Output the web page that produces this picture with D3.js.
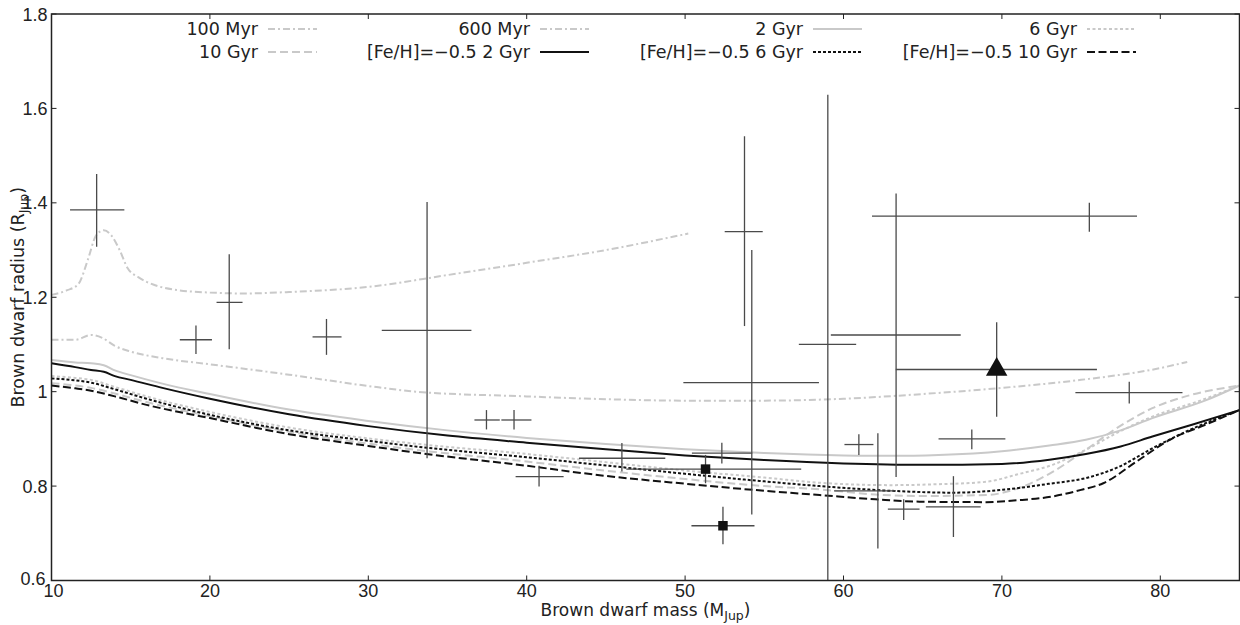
<!DOCTYPE html>
<html>
<head>
<meta charset="utf-8">
<script src="https://cdn.jsdelivr.net/npm/d3@7"></script>
<style>
  html, body { margin: 0; padding: 0; background: #fff; }
  svg { display: block; }
</style>
</head>
<body>
<svg id="chart" width="1240" height="625"></svg>
<script>
// ---------------- DATA ----------------
const xTicks = [10, 20, 30, 40, 50, 60, 70, 80];
const yTicks = [0.6, 0.8, 1.0, 1.2, 1.4, 1.6, 1.8];
const yTickLabels = ["0.6", "0.8", "1", "1.2", "1.4", "1.6", "1.8"];

// Model isochrones (mass in M_Jup, radius in R_Jup)
const iso100MyrMass = [10, 11, 11.7, 12.3, 12.8, 13.3, 13.8, 14.3, 14.8, 15.5, 16.5, 18, 20, 22, 25, 30, 35, 40, 45, 50.2];
const iso100MyrRad  = [1.205, 1.215, 1.228, 1.28, 1.33, 1.342, 1.33, 1.30, 1.262, 1.242, 1.226, 1.215, 1.21, 1.208, 1.211, 1.222, 1.247, 1.273, 1.300, 1.335];

const iso600MyrMass = [10, 11.5, 12.5, 13.2, 14, 15, 17, 20, 25, 30, 33, 40, 45, 50, 55, 60, 65, 70, 75, 80, 81.7];
const iso600MyrRad  = [1.110, 1.110, 1.120, 1.114, 1.097, 1.085, 1.071, 1.058, 1.036, 1.012, 1.0, 0.99, 0.984, 0.981, 0.981, 0.985, 0.995, 1.008, 1.025, 1.050, 1.063];

const iso2GyrMass = [10, 11.5, 12.5, 13.3, 14, 15, 17, 20, 25, 30, 35, 40, 45, 50, 55, 60, 63, 66, 70, 73, 75.3, 77.5, 79.5, 82.9, 85];
const iso2GyrRad  = [1.067, 1.062, 1.060, 1.056, 1.045, 1.035, 1.017, 0.995, 0.962, 0.938, 0.918, 0.902, 0.889, 0.878, 0.870, 0.865, 0.864, 0.866, 0.874, 0.886, 0.898, 0.918, 0.944, 0.982, 1.013];

const iso6GyrMass = [10, 11.5, 12.5, 14, 16, 20, 25, 30, 33.2, 40, 44.6, 50, 55, 58.5, 63, 66, 69, 71, 73.2, 75.3, 77.4, 79.5, 82.6, 85];
const iso6GyrRad  = [1.033, 1.029, 1.025, 1.010, 0.990, 0.957, 0.924, 0.901, 0.889, 0.868, 0.852, 0.833, 0.818, 0.807, 0.802, 0.804, 0.809, 0.825, 0.845, 0.877, 0.915, 0.947, 0.982, 1.013];

const iso10GyrMass = [10, 11.5, 12.5, 14, 16, 20, 25, 30, 33.2, 40, 44.6, 50, 55, 58.5, 62, 64.8, 69, 71, 73.2, 75.3, 77.4, 79.5, 81.6, 85];
const iso10GyrRad  = [1.018, 1.013, 1.008, 0.996, 0.978, 0.948, 0.915, 0.890, 0.876, 0.852, 0.834, 0.815, 0.800, 0.793, 0.782, 0.779, 0.781, 0.795, 0.830, 0.877, 0.926, 0.965, 0.990, 1.013];

const feh2GyrMass = [10, 11.5, 12.5, 13.3, 14, 15, 17, 20, 25, 30, 35, 40, 45, 50, 55, 60, 65, 70, 73, 75.3, 77.5, 79.5, 82, 85];
const feh2GyrRad  = [1.060, 1.052, 1.046, 1.042, 1.033, 1.025, 1.008, 0.985, 0.952, 0.927, 0.907, 0.892, 0.878, 0.865, 0.855, 0.848, 0.845, 0.847, 0.856, 0.868, 0.884, 0.905, 0.930, 0.961];

const feh6GyrMass = [10, 11.5, 12.5, 14, 16, 20, 25, 30, 33.2, 40, 44.6, 50, 55, 58.5, 63, 66.9, 70, 73, 75.3, 77.4, 79.5, 81.6, 85];
const feh6GyrRad  = [1.028, 1.024, 1.019, 1.005, 0.985, 0.951, 0.918, 0.896, 0.883, 0.861, 0.845, 0.826, 0.810, 0.800, 0.790, 0.786, 0.792, 0.805, 0.817, 0.841, 0.880, 0.915, 0.961];

const feh10GyrMass = [10, 11.5, 12.5, 14, 16, 20, 25, 30, 33.2, 40, 44.6, 50, 55, 58.5, 62, 64.8, 69, 71, 73.2, 75, 76.4, 78.5, 80.6, 83, 85];
const feh10GyrRad  = [1.013, 1.007, 1.002, 0.990, 0.972, 0.944, 0.910, 0.885, 0.870, 0.843, 0.823, 0.805, 0.790, 0.781, 0.772, 0.767, 0.766, 0.770, 0.778, 0.792, 0.806, 0.852, 0.898, 0.932, 0.961];

// Observed brown dwarfs
const bdMass     = [12.85, 19.12, 21.22, 27.36, 33.71, 37.46, 39.2, 40.78, 46.01, 51.29, 52.32, 52.39, 54.21, 53.75, 59.01, 63.32, 75.52, 69.67, 78.04, 68.1, 60.97, 62.17, 63.8, 66.94];
const bdRadius   = [1.385, 1.110, 1.189, 1.116, 1.130, 0.940, 0.940, 0.820, 0.859, 0.836, 0.870, 0.716, 1.019, 1.339, 1.100, 1.120, 1.372, 1.047, 0.998, 0.900, 0.888, 0.790, 0.751, 0.756];
const bdMassLo   = [11.17, 18.1, 20.42, 26.48, 30.85, 36.7, 38.4, 39.3, 43.3, 46.29, 50.43, 50.4, 49.89, 52.5, 57.18, 59.2, 61.8, 63.3, 74.64, 66.0, 60.06, 59.4, 62.8, 65.2];
const bdMassHi   = [14.6, 20.13, 22.06, 28.31, 36.51, 38.3, 40.3, 42.33, 48.75, 57.33, 54.24, 54.38, 58.45, 54.9, 60.8, 67.4, 78.53, 76.0, 81.4, 70.22, 61.89, 63.3, 64.8, 68.66];
const bdRadLo    = [1.307, 1.080, 1.090, 1.078, 0.859, 0.920, 0.920, 0.799, 0.831, 0.806, 0.848, 0.677, 0.740, 1.139, 0.55, 0.819, 1.339, 0.947, 0.975, 0.878, 0.866, 0.668, 0.728, 0.692];
const bdRadHi    = [1.461, 1.140, 1.291, 1.154, 1.402, 0.961, 0.961, 0.843, 0.891, 0.866, 0.892, 0.756, 1.300, 1.541, 1.629, 1.420, 1.400, 1.147, 1.021, 0.920, 0.910, 0.912, 0.772, 0.821];
const bdMarker   = ["none", "none", "none", "none", "none", "none", "none", "none", "none", "square", "none", "square", "none", "none", "none", "none", "none", "triangle", "none", "none", "none", "none", "none", "none"];

// Legend (row-major as displayed)
const legendRow1 = ["100 Myr", "600 Myr", "2 Gyr", "6 Gyr"];
const legendRow2 = ["10 Gyr", "[Fe/H]=\u22120.5 2 Gyr", "[Fe/H]=\u22120.5 6 Gyr", "[Fe/H]=\u22120.5 10 Gyr"];

// ---------------- STYLES ----------------
const GRAY = "#c9c9c9";
const styles = {
  "100 Myr": { color: GRAY, dash: "7,3,2,3", width: 2 },
  "600 Myr": { color: GRAY, dash: "7,3,2,3", width: 2 },
  "2 Gyr":   { color: GRAY, dash: null, width: 2 },
  "6 Gyr":   { color: GRAY, dash: "3,2.5", width: 2 },
  "10 Gyr":  { color: GRAY, dash: "8,4", width: 2 },
  "[Fe/H]=\u22120.5 2 Gyr":  { color: "#111", dash: null, width: 2 },
  "[Fe/H]=\u22120.5 6 Gyr":  { color: "#111", dash: "3,2", width: 2 },
  "[Fe/H]=\u22120.5 10 Gyr": { color: "#111", dash: "8,3.5", width: 2 }
};

const models = [
  { name: "100 Myr", m: iso100MyrMass, r: iso100MyrRad },
  { name: "600 Myr", m: iso600MyrMass, r: iso600MyrRad },
  { name: "2 Gyr", m: iso2GyrMass, r: iso2GyrRad },
  { name: "6 Gyr", m: iso6GyrMass, r: iso6GyrRad },
  { name: "10 Gyr", m: iso10GyrMass, r: iso10GyrRad },
  { name: "[Fe/H]=\u22120.5 2 Gyr", m: feh2GyrMass, r: feh2GyrRad },
  { name: "[Fe/H]=\u22120.5 6 Gyr", m: feh6GyrMass, r: feh6GyrRad },
  { name: "[Fe/H]=\u22120.5 10 Gyr", m: feh10GyrMass, r: feh10GyrRad }
];

// ---------------- CHART ----------------
const svg = d3.select("#chart");
const L = 51.5, R = 1239.5, T = 14, B = 580.5;
const x = d3.scaleLinear().domain([10, 85]).range([L, R]);
const y = d3.scaleLinear().domain([0.6, 1.8]).range([B, T]);

svg.append("defs").append("clipPath").attr("id", "plotclip")
  .append("rect").attr("x", L).attr("y", T).attr("width", R - L).attr("height", B - T);

const plot = svg.append("g").attr("clip-path", "url(#plotclip)");

const line = d3.line().x(d => x(d[0])).y(d => y(d[1])).curve(d3.curveMonotoneX);

models.forEach(md => {
  const st = styles[md.name];
  const pts = md.m.map((v, i) => [v, md.r[i]]);
  plot.append("path")
    .attr("d", line(pts))
    .attr("fill", "none")
    .attr("stroke", st.color)
    .attr("stroke-width", st.width)
    .attr("stroke-dasharray", st.dash)
    .attr("stroke-linejoin", "round");
});

// error bars
const ebColor = "#4a4a4a";
const eb = plot.append("g");
bdMass.forEach((m, i) => {
  eb.append("line")
    .attr("x1", x(bdMassLo[i])).attr("x2", x(bdMassHi[i]))
    .attr("y1", y(bdRadius[i])).attr("y2", y(bdRadius[i]))
    .attr("stroke", ebColor).attr("stroke-width", 1.3);
  eb.append("line")
    .attr("x1", x(m)).attr("x2", x(m))
    .attr("y1", y(bdRadLo[i])).attr("y2", y(bdRadHi[i]))
    .attr("stroke", ebColor).attr("stroke-width", 1.3);
});
bdMass.forEach((m, i) => {
  const cx = x(m), cy = y(bdRadius[i]);
  if (bdMarker[i] === "square") {
    eb.append("path").attr("d", d3.symbol().type(d3.symbolSquare).size(90)())
      .attr("transform", `translate(${cx},${cy})`).attr("fill", "#111");
  } else if (bdMarker[i] === "triangle") {
    eb.append("path").attr("d", d3.symbol().type(d3.symbolTriangle).size(200)())
      .attr("transform", `translate(${cx},${cy})`).attr("fill", "#111");
  }
});

// axes frame & ticks (inward, all sides)
const axG = svg.append("g");
const tickLen = 5;
const font = "'Liberation Sans', Arial, Helvetica, sans-serif";
xTicks.forEach(t => {
  axG.append("line").attr("x1", x(t)).attr("x2", x(t)).attr("y1", B).attr("y2", B - tickLen).attr("stroke", "#222").attr("stroke-width", 1);
  axG.append("line").attr("x1", x(t)).attr("x2", x(t)).attr("y1", T).attr("y2", T + tickLen).attr("stroke", "#222").attr("stroke-width", 1);
  axG.append("text").attr("x", x(t) + (t === 10 ? 2 : 0)).attr("y", B + 16).attr("text-anchor", "middle")
    .attr("font-family", font).attr("font-size", 18).attr("fill", "#222").text(t);
});
yTicks.forEach((t, i) => {
  axG.append("line").attr("x1", L).attr("x2", L + tickLen).attr("y1", y(t)).attr("y2", y(t)).attr("stroke", "#222").attr("stroke-width", 1);
  axG.append("line").attr("x1", R).attr("x2", R - tickLen).attr("y1", y(t)).attr("y2", y(t)).attr("stroke", "#222").attr("stroke-width", 1);
  axG.append("text").attr("x", L - (t === 0.6 ? 6 : 4)).attr("y", y(t) + (t === 0.6 ? 4.5 : 6.5)).attr("text-anchor", "end")
    .attr("font-family", font).attr("font-size", 18).attr("fill", "#222").text(yTickLabels[i]);
});
axG.append("rect").attr("x", L).attr("y", T).attr("width", R - L).attr("height", B - T)
  .attr("fill", "none").attr("stroke", "#222").attr("stroke-width", 1.5);

// axis titles
const tfont = "'DejaVu Sans', Verdana, sans-serif";
const xt = svg.append("text").attr("x", (L + R) / 2).attr("y", 616).attr("text-anchor", "middle")
  .attr("font-family", tfont).attr("font-size", 17).attr("fill", "#222");
xt.append("tspan").text("Brown dwarf mass (M");
xt.append("tspan").attr("font-size", 12.5).attr("dy", 4).text("Jup");
xt.append("tspan").attr("dy", -4).text(")");

const yt = svg.append("text").attr("transform", `translate(24,${(T + B) / 2}) rotate(-90)`).attr("text-anchor", "middle")
  .attr("font-family", tfont).attr("font-size", 17.5).attr("fill", "#222");
yt.append("tspan").text("Brown dwarf radius (R");
yt.append("tspan").attr("font-size", 12.5).attr("dy", 4).text("Jup");
yt.append("tspan").attr("dy", -4).text(")");

// legend
const colEnds = [258, 530, 803, 1077];
const rowY = [29, 52];
[legendRow1, legendRow2].forEach((row, ri) => {
  row.forEach((name, ci) => {
    const st = styles[name];
    svg.append("text").attr("x", colEnds[ci]).attr("y", rowY[ri] + 6).attr("text-anchor", "end")
      .attr("font-family", tfont).attr("font-size", 17.5).attr("fill", "#222").text(name);
    svg.append("line").attr("x1", colEnds[ci] + 10).attr("x2", colEnds[ci] + 59)
      .attr("y1", rowY[ri]).attr("y2", rowY[ri])
      .attr("stroke", st.color).attr("stroke-width", st.width).attr("stroke-dasharray", st.dash);
  });
});
</script>
</body>
</html>
